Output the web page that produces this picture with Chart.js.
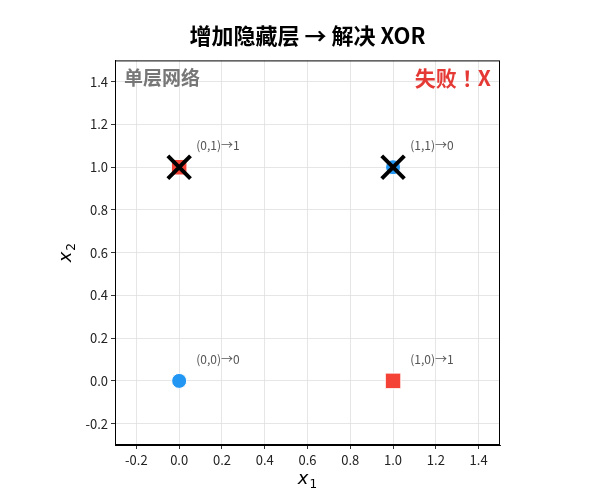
<!DOCTYPE html>
<html>
<head>
<meta charset="utf-8">
<script src="https://cdn.jsdelivr.net/npm/chart.js@4.4.0/dist/chart.umd.min.js"></script>
<style>
  html, body { margin: 0; padding: 0; background: #fff; }
  #wrap { width: 600px; height: 500px; }
</style>
</head>
<body>
<div id="wrap"><canvas id="grafico"></canvas></div>
<script>
// dados do gráfico
const classe0X = [0, 1];
const classe0Y = [0, 1];
const classe1X = [0, 1];
const classe1Y = [1, 0];
const falhaX = [0, 1];
const falhaY = [1, 1];
const rotulos = ['(0,0)→0', '(0,1)→1', '(1,0)→1', '(1,1)→0'];
const rotulosX = [0, 0, 1, 1];
const rotulosY = [0, 1, 0, 1];
const ticksX = [-0.2, 0, 0.2, 0.4, 0.6, 0.8, 1.0, 1.2, 1.4];
const ticksY = [-0.2, 0, 0.2, 0.4, 0.6, 0.8, 1.0, 1.2, 1.4];

const FONTE = "'Noto Sans CJK SC', 'Noto Sans', sans-serif";

function pontos(xs, ys) {
  return xs.map((x, i) => ({ x: x, y: ys[i] }));
}

// desenha "x" em itálico com índice em baixo
function rotuloEixo(ctx, indice, cx, cy) {
  ctx.font = 'italic 18px "DejaVu Sans"';
  const w1 = ctx.measureText('x').width;
  ctx.font = '12px "DejaVu Sans"';
  const w2 = ctx.measureText(indice).width;
  const x0 = cx - (w1 + w2 + 1) / 2;
  ctx.textAlign = 'left';
  ctx.textBaseline = 'alphabetic';
  ctx.font = 'italic 18px "DejaVu Sans"';
  ctx.fillText('x', x0, cy + 5);
  ctx.font = '12px "DejaVu Sans"';
  ctx.fillText(indice, x0 + w1 + 1, cy + 9);
}

// textos por cima do gráfico (anotações, moldura, títulos dos eixos)
const textosPlugin = {
  id: 'textos',
  afterDraw(chart) {
    const ctx = chart.ctx;
    const area = chart.chartArea;
    const sx = chart.scales.x, sy = chart.scales.y;
    ctx.save();
    // moldura completa
    ctx.strokeStyle = '#000';
    ctx.lineWidth = 1;
    ctx.strokeRect(area.left + 0.5, area.top + 0.5, area.right - area.left - 1, area.bottom - area.top - 1);

    ctx.font = '12px ' + FONTE;
    ctx.fillStyle = '#555';
    ctx.textBaseline = 'middle';
    ctx.textAlign = 'left';
    rotulos.forEach((t, i) => {
      ctx.fillText(t, sx.getPixelForValue(rotulosX[i] + 0.08), sy.getPixelForValue(rotulosY[i] + 0.1));
    });

    ctx.font = 'bold 19px ' + FONTE;
    ctx.fillStyle = '#777';
    ctx.fillText('单层网络', area.left + 9, area.top + 17);

    ctx.font = "bold 21px 'Noto Sans CJK JP', 'Noto Sans CJK SC', sans-serif";
    ctx.fillStyle = '#e53935';
    ctx.textAlign = 'right';
    ctx.fillText('失败！X', area.right - 9, area.top + 18);

    // títulos dos eixos
    ctx.fillStyle = '#000';
    rotuloEixo(ctx, '1', (area.left + area.right) / 2, 479);
    ctx.save();
    ctx.translate(66, (area.top + area.bottom) / 2);
    ctx.rotate(-Math.PI / 2);
    rotuloEixo(ctx, '2', 0, 0);
    ctx.restore();
    ctx.restore();
  }
};

const ctx = document.getElementById('grafico').getContext('2d');
const grafico = new Chart(ctx, {
  type: 'scatter',
  data: {
    datasets: [
      {
        label: 'falha',
        data: pontos(falhaX, falhaY),
        pointStyle: 'crossRot',
        pointRadius: 16,
        borderColor: '#000',
        backgroundColor: '#000',
        borderWidth: 4
      },
      {
        label: 'classe 0',
        data: pontos(classe0X, classe0Y),
        pointStyle: 'circle',
        pointRadius: 7.5,
        backgroundColor: '#2196F3',
        borderColor: '#fff',
        borderWidth: 1
      },
      {
        label: 'classe 1',
        data: pontos(classe1X, classe1Y),
        pointStyle: 'rect',
        pointRadius: 11,
        backgroundColor: '#F44336',
        borderColor: '#fff',
        borderWidth: 1
      }
    ]
  },
  options: {
    responsive: true,
    maintainAspectRatio: false,
    animation: false,
    layout: { padding: { left: 52, right: 100, top: 0, bottom: 0 } },
    plugins: {
      legend: { display: false },
      tooltip: { enabled: false },
      title: {
        display: true,
        text: '增加隐藏层 → 解决 XOR',
        fullSize: false,
        color: '#000',
        font: { family: FONTE, size: 22, weight: 'bold' },
        padding: { top: 22, bottom: 12 }
      }
    },
    scales: {
      x: {
        type: 'linear',
        min: -0.3,
        max: 1.5,
        afterBuildTicks: s => { s.ticks = ticksX.map(v => ({ value: v })); },
        afterFit: s => { s.height = 55; },
        ticks: {
          color: '#222',
          font: { family: FONTE, size: 13 },
          padding: 3,
          callback: v => v.toFixed(1)
        },
        grid: { color: '#e0e0e0', lineWidth: 0.8, tickColor: '#000', tickLength: 4 },
        border: { display: true, color: '#000', width: 1 }
      },
      y: {
        type: 'linear',
        min: -0.3,
        max: 1.5,
        afterBuildTicks: s => { s.ticks = ticksY.map(v => ({ value: v })); },
        afterFit: s => { s.width = 63; },
        ticks: {
          color: '#222',
          font: { family: FONTE, size: 13 },
          padding: 3,
          callback: v => v.toFixed(1)
        },
        grid: { color: '#e0e0e0', lineWidth: 0.8, tickColor: '#000', tickLength: 4 },
        border: { display: true, color: '#000', width: 1 }
      }
    }
  },
  plugins: [textosPlugin]
});
</script>
</body>
</html>
